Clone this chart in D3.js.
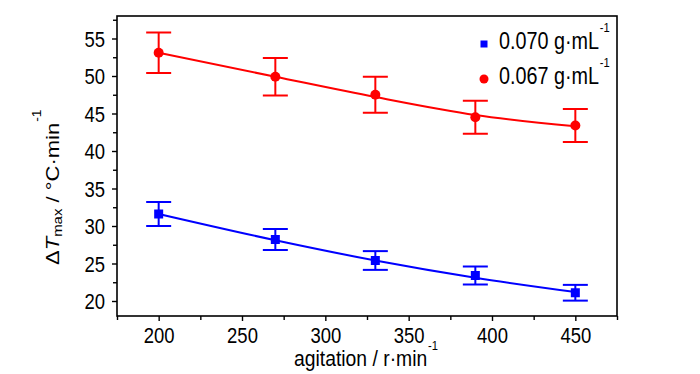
<!DOCTYPE html>
<html>
<head>
<meta charset="utf-8">
<script src="https://cdnjs.cloudflare.com/ajax/libs/d3/7.8.5/d3.min.js"></script>
<style>
  html, body { margin: 0; padding: 0; background: #fff; }
  svg { display: block; font-family: "Liberation Sans", Arial, sans-serif; }
</style>
</head>
<body>
<svg id="chart" width="700" height="374"></svg>
<script>
// ---- data ----
const agitation = [200, 270, 330, 390, 450];
const seriesNames = ["0.070 g\u00b7mL", "0.067 g\u00b7mL"];
const blueValues = [31.6, 28.2, 25.4, 23.4, 21.1];
const blueErrors = [1.6, 1.4, 1.25, 1.2, 1.05];
const blueFit = [31.6, 28.1, 25.4, 23.1, 21.2];
const redValues = [53.1, 49.9, 47.5, 44.5, 43.4];
const redErrors = [2.7, 2.5, 2.4, 2.2, 2.2];
const redFit = [53.1, 49.9, 47.2, 44.8, 43.3];
const xTicks = [200, 250, 300, 350, 400, 450];
const xMinorTicks = [175, 225, 275, 325, 375, 425, 475];
const yTicks = [20, 25, 30, 35, 40, 45, 50, 55];
const yMinorTicks = [22.5, 27.5, 32.5, 37.5, 42.5, 47.5, 52.5, 57.5];

const SX = 0.86; // horizontal text compression of the original
const svg = d3.select("#chart");
const L = 117, R = 617, T = 16, B = 316;
const x = d3.scaleLinear().domain([175, 475]).range([L, R]);
const y = d3.scaleLinear().domain([18, 58]).range([B, T]);

// frame
svg.append("rect").attr("x", L).attr("y", T).attr("width", R - L).attr("height", B - T)
  .attr("fill", "none").attr("stroke", "#000").attr("stroke-width", 1.6);

// axes
const xAxis = svg.append("g").attr("transform", `translate(0,${B})`)
  .call(d3.axisBottom(x).tickValues(xTicks).tickSize(5).tickPadding(7).tickFormat(d3.format("d")));
const xMinor = svg.append("g").attr("transform", `translate(0,${B})`)
  .call(d3.axisBottom(x).tickValues(xMinorTicks).tickSize(4).tickFormat(""));
const yAxis = svg.append("g").attr("transform", `translate(${L},0)`)
  .call(d3.axisLeft(y).tickValues(yTicks).tickSize(5).tickPadding(8).tickFormat(d3.format("d")));
const yMinor = svg.append("g").attr("transform", `translate(${L},0)`)
  .call(d3.axisLeft(y).tickValues(yMinorTicks).tickSize(4).tickFormat(""));
[xAxis, xMinor, yAxis, yMinor].forEach(g => {
  g.select(".domain").remove();
  g.selectAll(".tick line").attr("stroke", "#000").attr("stroke-width", 1.4);
});
xAxis.selectAll(".tick text").attr("font-size", 21.5).attr("fill", "#000")
  .attr("font-family", "Liberation Sans, Arial, sans-serif")
  .attr("transform", `scale(${SX},1)`);
yAxis.selectAll(".tick text").attr("font-size", 21.5).attr("fill", "#000")
  .attr("font-family", "Liberation Sans, Arial, sans-serif")
  .attr("x", -12 / SX).attr("dy", "0.36em")
  .attr("transform", `scale(${SX},1)`);

// series
function drawSeries(vals, errs, fit, color, shape) {
  const g = svg.append("g");
  const line = d3.line().x((d, i) => x(agitation[i])).y(d => y(d)).curve(d3.curveMonotoneX);
  g.append("path").datum(fit).attr("d", line).attr("fill", "none")
    .attr("stroke", color).attr("stroke-width", 2);
  const cap = 12.5;
  vals.forEach((v, i) => {
    const cx = x(agitation[i]);
    const top = y(v + errs[i]), bot = y(v - errs[i]);
    g.append("line").attr("x1", cx).attr("x2", cx).attr("y1", top).attr("y2", bot)
      .attr("stroke", color).attr("stroke-width", 2);
    [top, bot].forEach(yy => g.append("line").attr("x1", cx - cap).attr("x2", cx + cap)
      .attr("y1", yy).attr("y2", yy).attr("stroke", color).attr("stroke-width", 2));
    if (shape === "circle") {
      g.append("circle").attr("cx", cx).attr("cy", y(v)).attr("r", 5).attr("fill", color);
    } else {
      g.append("rect").attr("x", cx - 4.5).attr("y", y(v) - 4.5).attr("width", 9).attr("height", 9).attr("fill", color);
    }
  });
}
drawSeries(blueValues, blueErrors, blueFit, "#0000ff", "square");
drawSeries(redValues, redErrors, redFit, "#ff0000", "circle");

// text helper with compression
function ctext(px, py, extra) {
  return svg.append("text").attr("transform", `translate(${px},${py}) scale(${SX},1)` + (extra || ""))
    .attr("fill", "#000");
}

// legend
const legend = [
  { name: seriesNames[0], color: "#0000ff", shape: "square", ly: 44, base: 49 },
  { name: seriesNames[1], color: "#ff0000", shape: "circle", ly: 79, base: 84 }
];
legend.forEach(it => {
  if (it.shape === "square") {
    svg.append("rect").attr("x", 484 - 3.5).attr("y", it.ly - 3.5).attr("width", 7).attr("height", 7).attr("fill", it.color);
  } else {
    svg.append("circle").attr("cx", 484).attr("cy", it.ly).attr("r", 4.5).attr("fill", it.color);
  }
  const t = ctext(499, it.base).attr("font-size", 23);
  t.append("tspan").text(it.name);
  t.append("tspan").attr("font-size", 13).attr("dx", 1).attr("dy", -17).text("-1");
});

// x title
const xt = ctext(294, 366).attr("font-size", 22.5);
xt.append("tspan").text("agitation / r\u00b7min");
xt.append("tspan").attr("font-size", 13).attr("dx", 1).attr("dy", -16).text("-1");

// y title
const yt = ctext(59, 265, " rotate(-90)").attr("font-size", 22);
yt.append("tspan").text("\u0394");
yt.append("tspan").attr("font-style", "italic").text("T");
yt.append("tspan").attr("font-size", 15).attr("dy", 3).text("max");
yt.append("tspan").attr("dy", -3).text(" / \u00b0C\u00b7min");
yt.append("tspan").attr("font-size", 14).attr("dx", 1).attr("dy", -21).text("-1");
</script>
</body>
</html>
